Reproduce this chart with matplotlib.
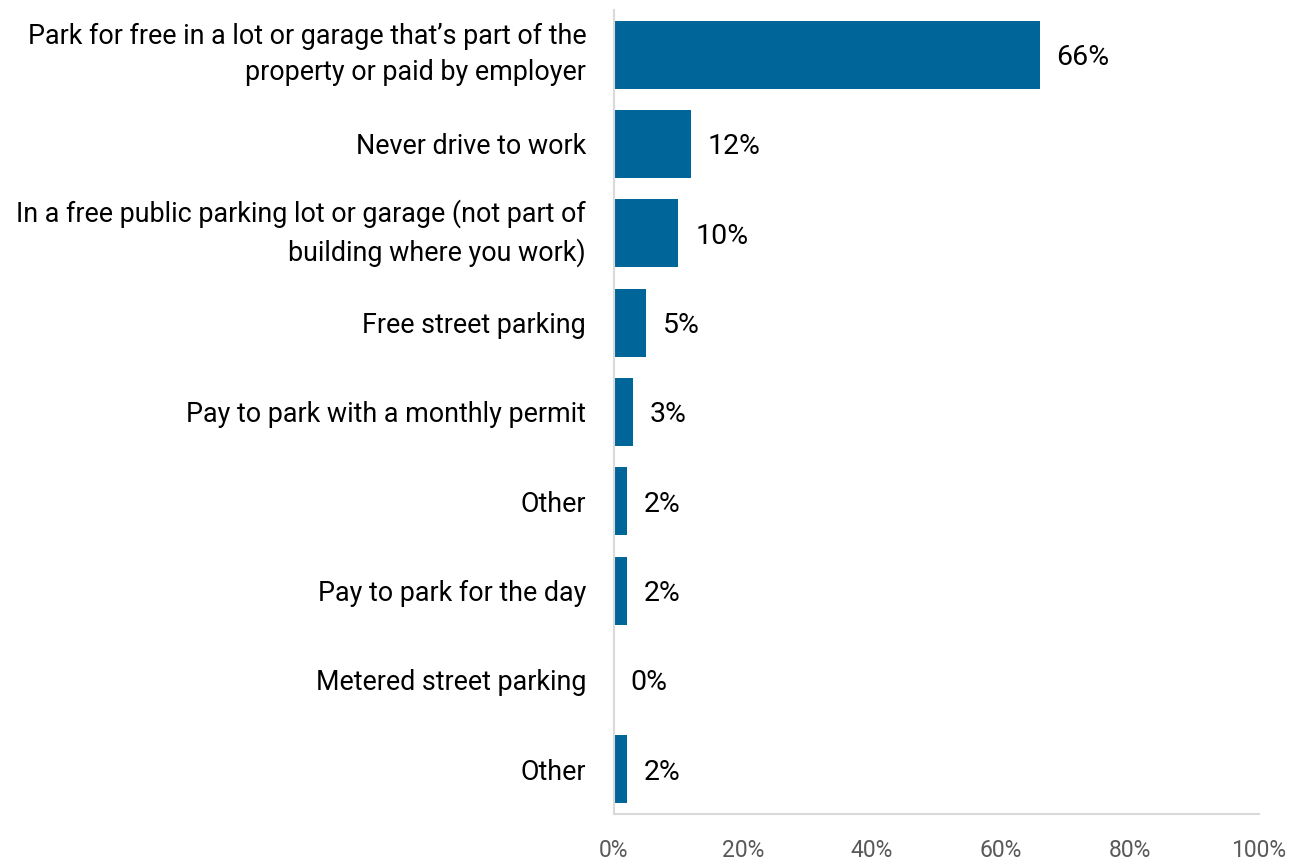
import matplotlib.pyplot as plt

plt.rcParams['font.family'] = ['Roboto', 'DejaVu Sans']

categories = [
    "Park for free in a lot or garage that\u2019s part of the\nproperty or paid by employer",
    "Never drive to work",
    "In a free public parking lot or garage (not part of\nbuilding where you work)",
    "Free street parking",
    "Pay to park with a monthly permit",
    "Other",
    "Pay to park for the day",
    "Metered street parking",
    "Other",
]
shares = [66, 12, 10, 5, 3, 2, 2, 0, 2]
tick_vals = [0, 20, 40, 60, 80, 100]

fig = plt.figure(figsize=(13.03, 8.61), dpi=100)
ax = fig.add_axes([0.4712, 0.0546, 0.495, 0.9338])

pos = list(range(len(categories)))
ax.barh(pos, shares, height=0.76, color='#00669a')

for y, v in zip(pos, shares):
    ax.annotate(f"{v}%", (v, y), xytext=(12, -2), textcoords='offset points',
                va='center', ha='left', fontsize=20.5, color='black')

ax.set_ylim(len(categories) - 0.5, -0.5)
ax.set_xlim(0, 100)
ax.set_yticks(pos)
ax.set_yticklabels(categories, fontsize=19.4, color='black', linespacing=1.45)
# two-line labels sit centred on their bar
for lbl in ax.get_yticklabels():
    if "\n" in lbl.get_text():
        lbl.set_va('center')
ax.set_xticks(tick_vals)
ax.set_xticklabels([f"{t}%" for t in tick_vals], fontsize=16.5, color='#595959')
ax.tick_params(axis='both', length=0)
ax.tick_params(axis='y', pad=20)
ax.tick_params(axis='x', pad=18)

for s in ['top', 'right']:
    ax.spines[s].set_visible(False)
for s in ['left', 'bottom']:
    ax.spines[s].set_color('#d9d9d9')
    ax.spines[s].set_linewidth(1.5)

fig.savefig('out.png', dpi=100)
